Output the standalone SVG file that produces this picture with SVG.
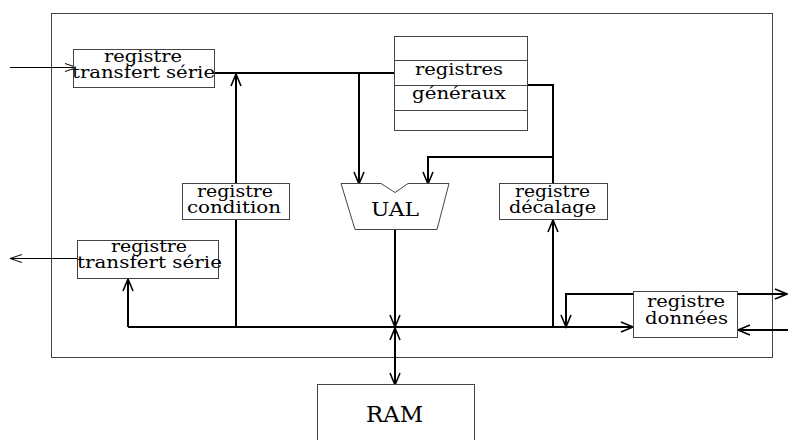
<svg xmlns="http://www.w3.org/2000/svg" width="788" height="440" viewBox="0 0 788 440">
<style>
.box{fill:#fff;stroke:#444;stroke-width:1}
.frame{fill:none;stroke:#444;stroke-width:1}
.c{fill:none;stroke:#000;stroke-width:2;stroke-linejoin:miter}
.t{fill:none;stroke:#000;stroke-width:1}
text{font-family:"DejaVu Serif","Liberation Serif",serif;font-size:17px;fill:#000;text-anchor:middle}
.sep{stroke:#444;stroke-width:1}
</style>
<defs>
<marker id="a" markerUnits="userSpaceOnUse" markerWidth="14" markerHeight="12" refX="12" refY="5" orient="auto" overflow="visible">
<path d="M0,0 L12,5 L0,10" fill="none" stroke="#000" stroke-width="1.6"/>
</marker>
<marker id="at" markerUnits="userSpaceOnUse" markerWidth="14" markerHeight="12" refX="12" refY="4" orient="auto" overflow="visible">
<path d="M0,0 L12,4 L0,8" fill="none" stroke="#000" stroke-width="1"/>
</marker>
</defs>
<rect id="frame" class="frame" x="51.5" y="13.5" width="721" height="344"/>
<g id="connectors">
<line class="t" x1="10" y1="67.5" x2="77" y2="67.5" marker-end="url(#at)"/>
<line class="t" x1="77" y1="258.5" x2="10" y2="258.5" marker-end="url(#at)"/>
<line class="c" x1="214" y1="73" x2="395" y2="73"/>
<line class="c" x1="236" y1="327" x2="236" y2="74" marker-end="url(#a)"/>
<line class="c" x1="359" y1="73" x2="359" y2="184" marker-end="url(#a)"/>
<polyline class="c" points="527,85 553,85 553,183"/>
<polyline class="c" points="553,157 428,157 428,184" marker-end="url(#a)"/>
<line class="c" x1="395" y1="229" x2="395" y2="327" marker-end="url(#a)"/>
<line class="c" x1="128" y1="327" x2="633" y2="327" marker-end="url(#a)"/>
<polyline class="c" points="128,327 128,279" marker-end="url(#a)"/>
<line class="c" x1="553" y1="327" x2="553" y2="220" marker-end="url(#a)"/>
<polyline class="c" points="633,294 566,294 566,327" marker-end="url(#a)"/>
<line class="c" x1="737" y1="294" x2="787" y2="294" marker-end="url(#a)"/>
<line class="c" x1="788" y1="330" x2="738" y2="330" marker-end="url(#a)"/>
<line class="c" x1="395" y1="384" x2="395" y2="328" marker-end="url(#a)"/>
<line class="c" x1="395" y1="330" x2="395" y2="385" marker-end="url(#a)"/>
</g>
<g id="reg-serie-in">
<rect class="box" x="73.5" y="49.5" width="141" height="38"/>
<text x="143" y="62" textLength="78" lengthAdjust="spacingAndGlyphs">registre</text>
<text x="143.5" y="78" textLength="143" lengthAdjust="spacingAndGlyphs">transfert série</text>
</g>
<g id="registres-generaux">
<rect class="box" x="394.5" y="36.5" width="133" height="94"/>
<line class="sep" x1="394.5" y1="60.5" x2="527.5" y2="60.5"/>
<line class="sep" x1="394.5" y1="85.5" x2="527.5" y2="85.5"/>
<line class="sep" x1="394.5" y1="110.5" x2="527.5" y2="110.5"/>
<text x="459" y="75" textLength="88" lengthAdjust="spacingAndGlyphs">registres</text>
<text x="459" y="99" textLength="94" lengthAdjust="spacingAndGlyphs">généraux</text>
</g>
<g id="ual">
<polygon class="box" points="341,183.5 381,183.5 395,192.5 408,183.5 449,183.5 437,229.5 355,229.5"/>
<text x="395" y="216" style="font-size:19px" textLength="48" lengthAdjust="spacingAndGlyphs">UAL</text>
</g>
<g id="reg-condition">
<rect class="box" x="182.5" y="183.5" width="107" height="36"/>
<text x="235" y="197" textLength="76" lengthAdjust="spacingAndGlyphs">registre</text>
<text x="234" y="213" textLength="94" lengthAdjust="spacingAndGlyphs">condition</text>
</g>
<g id="reg-decalage">
<rect class="box" x="499.5" y="183.5" width="108" height="36"/>
<text x="552.5" y="197" textLength="75" lengthAdjust="spacingAndGlyphs">registre</text>
<text x="552.5" y="213" textLength="87" lengthAdjust="spacingAndGlyphs">décalage</text>
</g>
<g id="reg-serie-out">
<rect class="box" x="77.5" y="240.5" width="141" height="38"/>
<text x="149" y="252" textLength="76" lengthAdjust="spacingAndGlyphs">registre</text>
<text x="149.5" y="268" textLength="145" lengthAdjust="spacingAndGlyphs">transfert série</text>
</g>
<g id="reg-donnees">
<rect class="box" x="633.5" y="291.5" width="104" height="46"/>
<text x="686" y="307" textLength="78" lengthAdjust="spacingAndGlyphs">registre</text>
<text x="686.5" y="324" textLength="83" lengthAdjust="spacingAndGlyphs">données</text>
</g>
<g id="ram">
<rect class="box" x="317.5" y="384.5" width="157" height="60"/>
<text x="394.5" y="422" style="font-size:22px" textLength="57" lengthAdjust="spacingAndGlyphs">RAM</text>
</g>
</svg>
